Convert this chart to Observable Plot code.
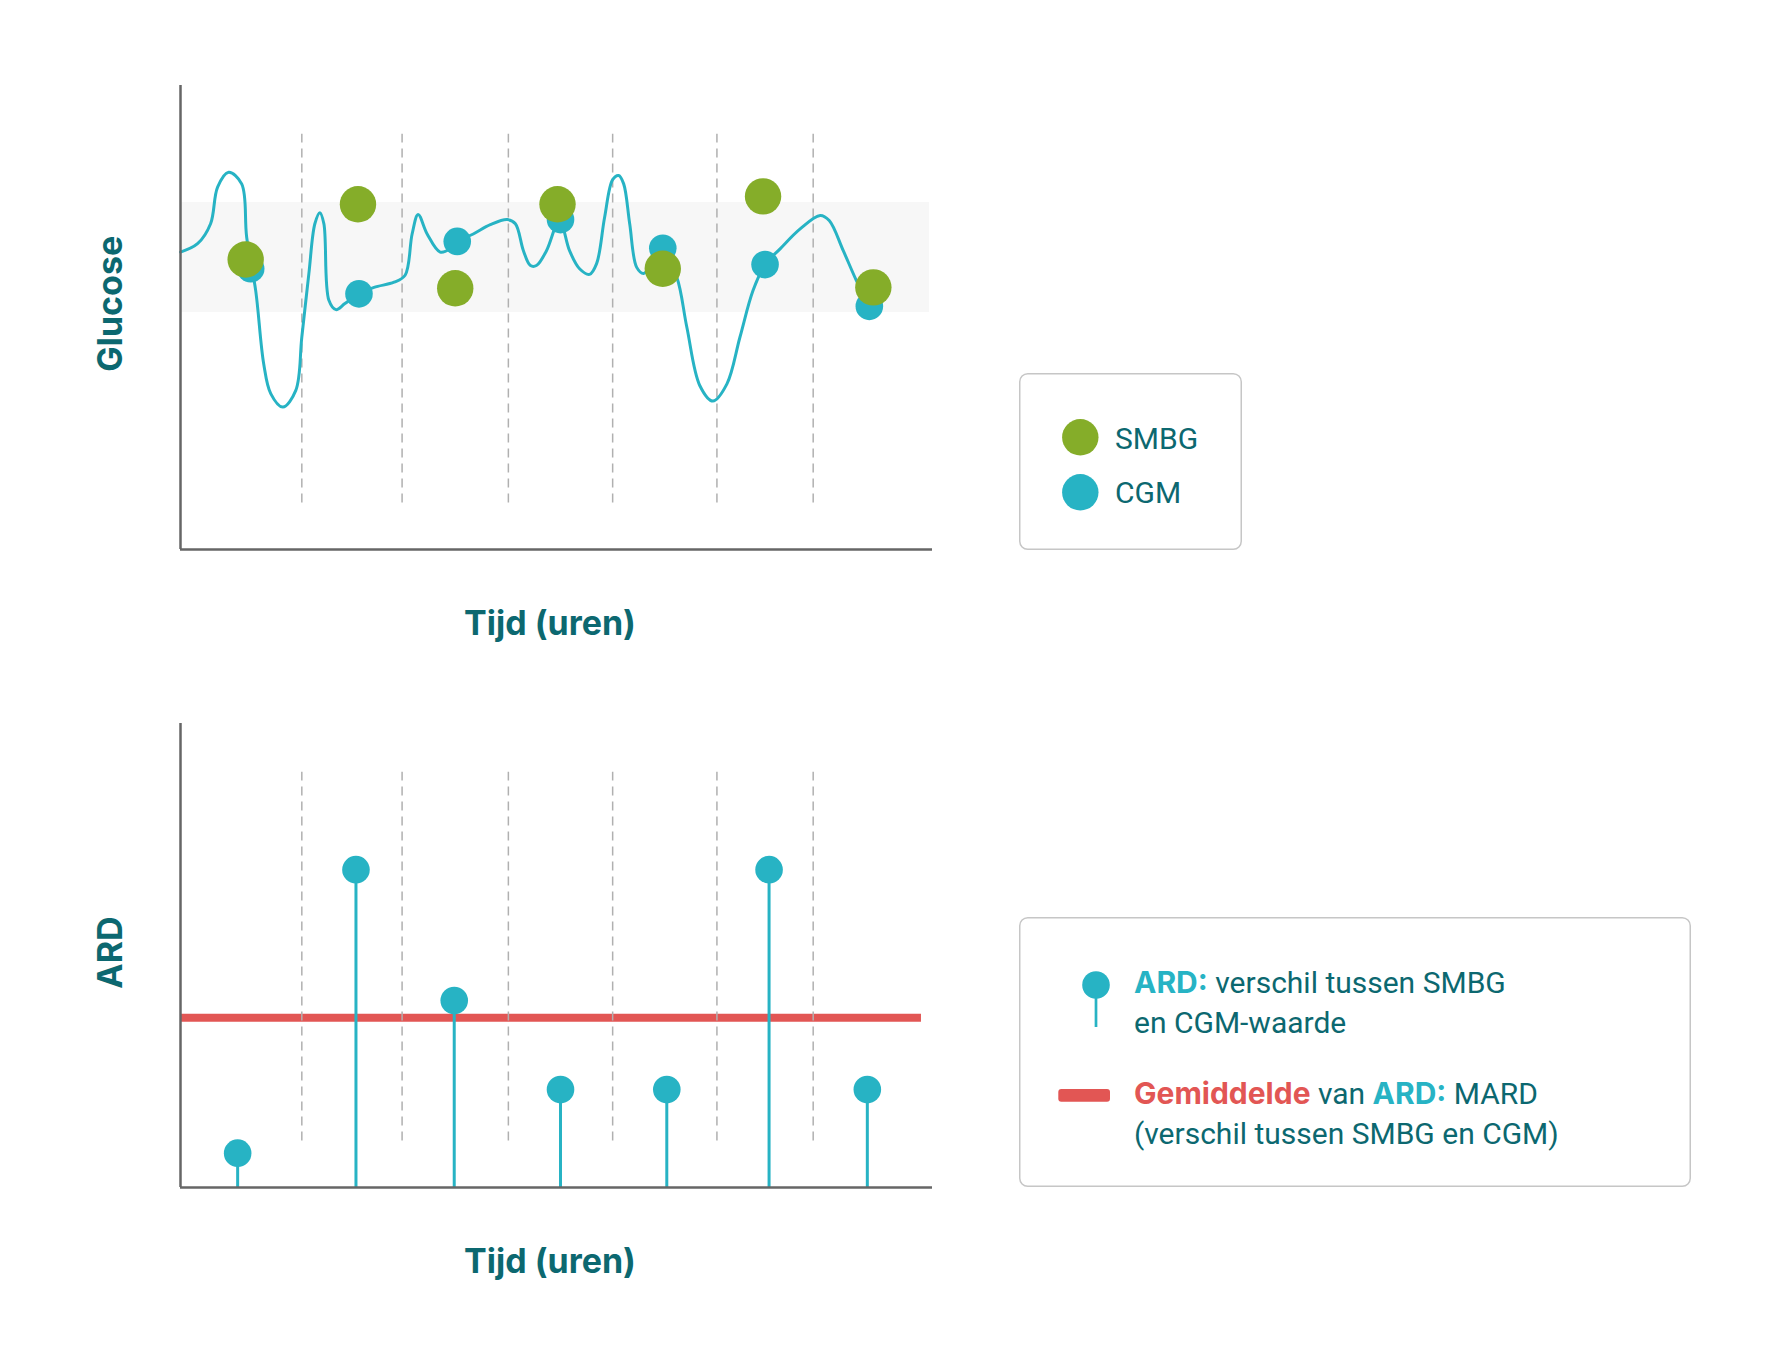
<!DOCTYPE html>
<html>
<head>
<meta charset="utf-8">
<script src="https://cdn.jsdelivr.net/npm/d3@7"></script>
<script src="https://cdn.jsdelivr.net/npm/@observablehq/plot@0.6"></script>
<style>
  html, body { margin: 0; padding: 0; background: #fff; }
  #wrap { position: relative; width: 1779px; height: 1364px; overflow: hidden; }
  #wrap > svg, #wrap > .legend { position: absolute; }
</style>
</head>
<body>
<div id="wrap"></div>
<script>
// ---------- data ----------
// CGM trace (time in hours, glucose in arbitrary units)
const traceT = [0, 0.17, 0.30, 0.37, 0.48, 0.61, 0.66, 0.75, 0.83, 0.90, 1.02, 1.15, 1.21, 1.28, 1.34, 1.39, 1.43, 1.48, 1.55, 1.64, 1.78, 1.93, 2.13, 2.24, 2.31, 2.37, 2.46, 2.59, 2.69, 2.76, 2.92, 3.09, 3.26, 3.34, 3.42, 3.49, 3.55, 3.65, 3.78, 3.88, 3.98, 4.08, 4.15, 4.23, 4.31, 4.37, 4.42, 4.48, 4.55, 4.62, 4.81, 4.95, 5.05, 5.18, 5.31, 5.45, 5.58, 5.71, 5.83, 5.98, 6.18, 6.38, 6.47, 6.61, 6.74, 6.87];
const traceG = [64.1, 65.9, 70.2, 78.1, 81.3, 78.8, 67.3, 55.8, 40.0, 33.6, 30.7, 34.3, 45.8, 59.4, 70.2, 72.6, 70.2, 53.7, 51.7, 53.0, 55.1, 56.5, 57.6, 59.1, 68.0, 72.2, 68.0, 64.1, 64.8, 66.4, 68.0, 70.0, 71.1, 70.2, 64.4, 61.2, 61.2, 64.4, 70.9, 64.4, 60.5, 59.3, 61.6, 71.6, 79.7, 80.6, 78.8, 70.2, 60.8, 59.5, 64.4, 58.7, 47.9, 35.3, 32.0, 35.7, 45.8, 55.8, 61.4, 64.8, 69.1, 72.0, 70.9, 64.4, 58.0, 52.4];

const smbgT = [0.65, 1.77, 2.74, 3.76, 4.81, 5.81, 6.91];
const smbgG = [62.5, 74.4, 56.3, 74.4, 60.5, 76.1, 56.5];
const cgmT  = [0.70, 1.78, 2.76, 3.79, 4.81, 5.83, 6.87];
const cgmG  = [60.5, 55.1, 66.4, 71.1, 64.9, 61.4, 52.4];

const ardT = [0.57, 1.75, 2.73, 3.79, 4.85, 5.87, 6.85];
const ardV = [7.4, 68.5, 40.3, 21.1, 21.1, 68.5, 21.1];
const mard = 36.6;
const mardEnd = 7.39;

const targetRange = [51.1, 74.8];
const targetEnd = 7.47;
const hourLines = [1.21, 2.21, 3.27, 4.31, 5.35, 6.31];
const hourLineSpan = [10, 89.5];
const xDomain = [0, 7.5];
const yDomain = [0, 100];

// ---------- style ----------
const CYAN = "#27b3c4", GREEN = "#85ad29", RED = "#e25654", TEAL = "#0c6870";
const AXIS = "#666666", DASH = "#b0b0b0", BAND = "#f7f7f7";
const TITLE_FONT = "Inter, 'DejaVu Sans', sans-serif";

const trace = traceT.map((t, i) => ({t, g: traceG[i]}));
const smbg = smbgT.map((t, i) => ({t, g: smbgG[i]}));
const cgm = cgmT.map((t, i) => ({t, g: cgmG[i]}));
const ard = ardT.map((t, i) => ({t, v: ardV[i]}));
const band = [{t1: 0, t2: targetEnd, lo: targetRange[0], hi: targetRange[1]}];
const mardRow = [{t1: 0, t2: mardEnd, v: mard}];

function axisTitles(yLabel, ydy) {
  return [
    Plot.text([yLabel], {frameAnchor: "left", rotate: -90, dx: -69, dy: ydy,
      textAnchor: "middle", lineAnchor: "middle", fill: TEAL,
      fontSize: 34, fontWeight: 700, fontFamily: TITLE_FONT}),
    Plot.text(["Tijd (uren)"], {frameAnchor: "bottom", dx: -6.5, dy: 74.5,
      textAnchor: "middle", lineAnchor: "middle", fill: TEAL,
      fontSize: 34, fontWeight: 700, fontFamily: TITLE_FONT})
  ];
}

const topChart = Plot.plot({
  width: 960, height: 660,
  marginLeft: 180, marginRight: 28, marginTop: 85, marginBottom: 111,
  x: {domain: xDomain, axis: null},
  y: {domain: yDomain, axis: null},
  marks: [
    Plot.rect(band, {x1: "t1", x2: "t2", y1: "lo", y2: "hi", fill: BAND}),
    Plot.ruleX(hourLines, {x: d => d, y1: hourLineSpan[0], y2: hourLineSpan[1], stroke: DASH, strokeWidth: 1.5, strokeDasharray: "9,6"}),
    Plot.line(trace, {x: "t", y: "g", curve: "catmull-rom", stroke: CYAN, strokeWidth: 3}),
    Plot.dot(cgm, {x: "t", y: "g", r: 13.8, fill: CYAN}),
    Plot.dot(smbg, {x: "t", y: "g", r: 18.2, fill: GREEN}),
    Plot.ruleX([0], {stroke: AXIS, strokeWidth: 2.5}),
    Plot.ruleY([0], {stroke: AXIS, strokeWidth: 2.5}),
    ...axisTitles("Glucose", -13.7)
  ]
});
topChart.style.left = "0px"; topChart.style.top = "0px";

const bottomChart = Plot.plot({
  width: 960, height: 704,
  marginLeft: 180, marginRight: 28, marginTop: 63, marginBottom: 177,
  x: {domain: xDomain, axis: null},
  y: {domain: yDomain, axis: null},
  marks: [
    Plot.ruleY(mardRow, {x1: "t1", x2: "t2", y: "v", stroke: RED, strokeWidth: 8}),
    Plot.ruleX(hourLines, {x: d => d, y1: hourLineSpan[0], y2: hourLineSpan[1], stroke: DASH, strokeWidth: 1.5, strokeDasharray: "9,6"}),
    Plot.ruleX(ard, {x: "t", y1: 0, y2: "v", stroke: CYAN, strokeWidth: 3}),
    Plot.dot(ard, {x: "t", y: "v", r: 13.8, fill: CYAN}),
    Plot.ruleX([0], {stroke: AXIS, strokeWidth: 2.5}),
    Plot.ruleY([0], {stroke: AXIS, strokeWidth: 2.5}),
    ...axisTitles("ARD", -3)
  ]
});
bottomChart.style.left = "0px"; bottomChart.style.top = "660px";

const wrap = document.getElementById("wrap");
wrap.appendChild(topChart);
wrap.appendChild(bottomChart);

// ---------- legends ----------
const REG = "font-family: Roboto, 'Noto Sans', sans-serif; font-weight: 400;";
const BOLD = "font-family: Inter, 'DejaVu Sans', sans-serif; font-weight: 700;";
const legend1 = `
<svg class="legend" style="left:1019px; top:373px" width="224" height="178" xmlns="http://www.w3.org/2000/svg">
  <rect x="0.75" y="0.75" width="221.5" height="175.5" rx="8" fill="#fff" stroke="#c6c6c6" stroke-width="1.5"/>
  <circle cx="61.3" cy="64.3" r="18.2" fill="${GREEN}"/>
  <circle cx="61.3" cy="119.3" r="18.2" fill="${CYAN}"/>
  <text x="96" y="76" fill="${TEAL}" style="${REG} font-size:30px">SMBG</text>
  <text x="96" y="130" fill="${TEAL}" style="${REG} font-size:30px">CGM</text>
</svg>`;
const legend2 = `
<svg class="legend" style="left:1019px; top:917px" width="674" height="272" xmlns="http://www.w3.org/2000/svg">
  <rect x="0.75" y="0.75" width="670.5" height="268.5" rx="8" fill="#fff" stroke="#c6c6c6" stroke-width="1.5"/>
  <line x1="77" x2="77" y1="68" y2="110" stroke="${CYAN}" stroke-width="2.7"/>
  <circle cx="77" cy="68" r="13.8" fill="${CYAN}"/>
  <rect x="39.3" y="172" width="51.7" height="12.7" rx="3" fill="${RED}"/>
  <text x="115" y="75.7" style="font-size:30px"><tspan fill="${CYAN}" style="${BOLD}">ARD:</tspan><tspan fill="${TEAL}" style="${REG}"> verschil tussen SMBG</tspan></text>
  <text x="115" y="115.7" fill="${TEAL}" style="${REG} font-size:30px">en CGM-waarde</text>
  <text x="115" y="187.3" style="font-size:30px"><tspan fill="${RED}" style="${BOLD}">Gemiddelde</tspan><tspan fill="${TEAL}" style="${REG}"> van </tspan><tspan fill="${CYAN}" style="${BOLD}">ARD:</tspan><tspan fill="${TEAL}" style="${REG}"> MARD</tspan></text>
  <text x="115" y="227" fill="${TEAL}" style="${REG} font-size:30px">(verschil tussen SMBG en CGM)</text>
</svg>`;
wrap.insertAdjacentHTML("beforeend", legend1 + legend2);
</script>
</body>
</html>
